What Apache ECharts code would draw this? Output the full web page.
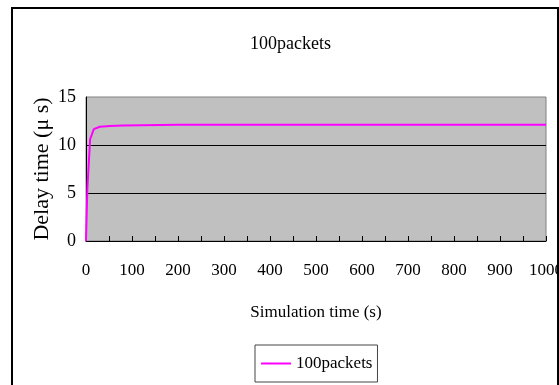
<!DOCTYPE html>
<html>
<head>
<meta charset="utf-8">
<script src="https://cdn.jsdelivr.net/npm/echarts@6/dist/echarts.min.js"></script>
<style>
  html, body { margin: 0; padding: 0; background: #fff; }
  #chart { width: 559px; height: 385px; }
</style>
</head>
<body>
<div id="chart"></div>
<script>
// Simulation time (s) and measured delay (µs) for the 100-packet run
const simTime = [0, 3, 9, 17, 30, 52, 80, 120, 200, 300, 400, 500, 600, 700, 800, 900, 1000];
const delay100 = [0, 5.5, 10.6, 11.65, 11.9, 11.98, 12.03, 12.06, 12.1, 12.1, 12.1, 12.1, 12.1, 12.1, 12.1, 12.1, 12.1];
const seriesName = '100packets';
const yTicks = [0, 5, 10, 15];

const FONT = '"Liberation Serif", "Times New Roman", serif';

const chart = echarts.init(document.getElementById('chart'), null, { renderer: 'canvas' });

const points = simTime.map((t, i) => [t, delay100[i]]);

chart.setOption({
  animation: false,
  backgroundColor: '#ffffff',
  title: {
    text: seriesName,
    left: 245,
    top: 30,
    textStyle: { fontFamily: FONT, fontSize: 18, fontWeight: 'normal', color: '#000' }
  },
  legend: {
    data: [{ name: seriesName, icon: 'rect' }],
    left: 255,
    top: 345,
    padding: [10, 5, 10, 6],
    borderColor: '#444',
    borderWidth: 1,
    itemWidth: 30,
    itemHeight: 2,
    itemGap: 4,
    textStyle: { fontFamily: FONT, fontSize: 17, color: '#000' }
  },
  graphic: [{
    type: 'rect',
    silent: true,
    shape: { x: 12, y: 8, width: 546, height: 400 },
    style: { fill: 'none', stroke: '#000', lineWidth: 2 }
  }],
  grid: {
    left: 86,
    top: 97,
    width: 460,
    height: 144,
    containLabel: false,
    outerBoundsMode: 'none',
    show: true,
    backgroundColor: '#c0c0c0',
    borderColor: '#808080',
    borderWidth: 1
  },
  xAxis: {
    type: 'value',
    min: 0,
    max: 1000,
    interval: 100,
    name: 'Simulation time (s)',
    nameLocation: 'middle',
    nameGap: 63,
    nameMoveOverlap: false,
    nameTextStyle: { fontFamily: FONT, fontSize: 17, color: '#000' },
    axisLine: { show: true, lineStyle: { color: '#000', width: 1 } },
    axisTick: { show: true, inside: true, length: 5, lineStyle: { color: '#000' } },
    minorTick: { show: true, splitNumber: 2, length: 5, lineStyle: { color: '#000' } },
    splitLine: { show: false },
    axisLabel: {
      margin: 21,
      fontFamily: FONT,
      fontSize: 17,
      color: '#000',
      formatter: (v) => String(v)
    }
  },
  yAxis: {
    type: 'value',
    min: yTicks[0],
    max: yTicks[yTicks.length - 1],
    interval: 5,
    name: 'Delay time (μ s)',
    nameLocation: 'middle',
    nameRotate: 90,
    nameGap: 33,
    nameMoveOverlap: false,
    nameTextStyle: { fontFamily: FONT, fontSize: 22, color: '#000' },
    axisLine: { show: true, lineStyle: { color: '#000', width: 1 } },
    axisTick: { show: false },
    splitLine: {
      show: true,
      lineStyle: { color: ['transparent', '#000', '#000', 'transparent'], width: 1 }
    },
    axisLabel: { margin: 10, fontFamily: FONT, fontSize: 18, color: '#000' }
  },
  series: [{
    name: seriesName,
    type: 'line',
    data: points,
    showSymbol: false,
    symbol: 'none',
    smooth: false,
    color: '#ff00ff',
    lineStyle: { color: '#ff00ff', width: 2 }
  }]
});
</script>
</body>
</html>
